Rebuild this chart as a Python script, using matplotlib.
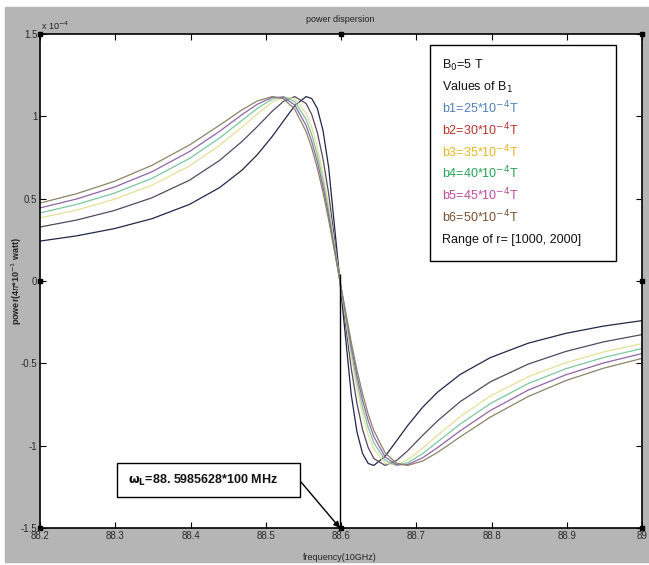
import numpy as np
import matplotlib; matplotlib.use("Agg")
import matplotlib.pyplot as plt
from matplotlib.patches import Rectangle

W, H = 649, 565

# frequency samples (10 GHz), shared by all curves
freq = [88.1886, 88.2486, 88.2986, 88.3486, 88.3986, 88.4386, 88.4686, 88.4886,
        88.5086, 88.5236, 88.5386, 88.5536, 88.5611, 88.5686, 88.5761, 88.5836,
        88.5986,
        88.6136, 88.6211, 88.6286, 88.6361, 88.6436, 88.6586, 88.6736, 88.6886,
        88.7086, 88.7286, 88.7586, 88.7986, 88.8486, 88.8986, 88.9486, 89.0086]

# power values, in units of 1e-4
b1 = [0.235, 0.274, 0.318, 0.378, 0.465, 0.567, 0.674, 0.766, 0.878, 0.972, 1.065,
      1.120, 1.108, 1.047, 0.914, 0.690, 0.0,
      -0.690, -0.914, -1.047, -1.108, -1.120, -1.065, -0.972, -0.878, -0.766,
      -0.674, -0.567, -0.465, -0.378, -0.318, -0.274, -0.235]
b2 = [0.318, 0.370, 0.428, 0.505, 0.612, 0.732, 0.848, 0.937, 1.031, 1.091, 1.120,
      1.078, 1.011, 0.901, 0.741, 0.531, 0.0,
      -0.531, -0.741, -0.901, -1.011, -1.078, -1.120, -1.091, -1.031, -0.937,
      -0.848, -0.732, -0.612, -0.505, -0.428, -0.370, -0.318]
b3 = [0.372, 0.431, 0.496, 0.582, 0.698, 0.823, 0.935, 1.015, 1.086, 1.117, 1.107,
      1.019, 0.932, 0.811, 0.653, 0.459, 0.0,
      -0.459, -0.653, -0.811, -0.932, -1.019, -1.107, -1.117, -1.086, -1.015,
      -0.935, -0.823, -0.698, -0.582, -0.496, -0.431, -0.372]
b4 = [0.401, 0.465, 0.533, 0.623, 0.744, 0.868, 0.976, 1.048, 1.104, 1.120, 1.089,
      0.982, 0.889, 0.765, 0.610, 0.426, 0.0,
      -0.426, -0.610, -0.765, -0.889, -0.982, -1.089, -1.120, -1.104, -1.048,
      -0.976, -0.868, -0.744, -0.623, -0.533, -0.465, -0.401]
b5 = [0.431, 0.498, 0.570, 0.663, 0.786, 0.909, 1.011, 1.073, 1.115, 1.116, 1.068,
      0.945, 0.847, 0.723, 0.572, 0.397, 0.0,
      -0.397, -0.572, -0.723, -0.847, -0.945, -1.068, -1.116, -1.115, -1.073,
      -1.011, -0.909, -0.786, -0.663, -0.570, -0.498, -0.431]
b6 = [0.460, 0.530, 0.605, 0.702, 0.826, 0.946, 1.040, 1.093, 1.120, 1.106, 1.043,
      0.908, 0.808, 0.684, 0.538, 0.371, 0.0,
      -0.371, -0.538, -0.684, -0.808, -0.908, -1.043, -1.106, -1.120, -1.093,
      -1.040, -0.946, -0.826, -0.702, -0.605, -0.530, -0.460]

curves = [b1, b2, b3, b4, b5, b6]
line_colors = ["#1f2748", "#55475f", "#e4e09a", "#7cc6a0", "#9263a8", "#8a8468"]

legend_lines = [r"b1=25*10$^{-4}$T", r"b2=30*10$^{-4}$T", r"b3=35*10$^{-4}$T",
                r"b4=40*10$^{-4}$T", r"b5=45*10$^{-4}$T", r"b6=50*10$^{-4}$T"]
legend_colors = ["#4f7fb8", "#b8322a", "#e8b820", "#26a255", "#c04a9c", "#7a5230"]

omega_L = 88.5985628
xticks = [88.2, 88.3, 88.4, 88.5, 88.6, 88.7, 88.8, 88.9, 89]
xticklabels = ["88.2", "88.3", "88.4", "88.5", "88.6", "88.7", "88.8", "88.9", "89"]
yticks = [-1.5, -1, -0.5, 0, 0.5, 1, 1.5]
yticklabels = ["-1.5", "-1", "-0.5", "0", "0.5", "1", "1.5"]

plt.rcParams["font.family"] = ["Liberation Sans", "DejaVu Sans"]


def fx(px):
    return px / W


def fy(py):
    return 1 - py / H


fig = plt.figure(figsize=(W / 100, H / 100), dpi=100, facecolor="white")
fig.patches.append(Rectangle((fx(5), fy(562)), 1, (562 - 7) / H,
                             transform=fig.transFigure, color="#b5b5b5", zorder=-5))

ax = fig.add_axes([fx(40), fy(528), (642 - 40) / W, (528 - 34) / H])
ax.set_facecolor("white")

for y, c in zip(curves, line_colors):
    ax.plot(freq, y, color=c, lw=0.9)

ax.vlines(omega_L, -1.5, 0.04, color="black", lw=1.0)

ax.set_xlim(88.2, 89)
ax.set_ylim(-1.5, 1.5)
ax.set_xticks(xticks)
ax.set_xticklabels(xticklabels)
ax.set_yticks(yticks)
ax.set_yticklabels(yticklabels)
ax.tick_params(direction="in", length=4, width=0.8, top=True, right=True,
               labelsize=7, labelcolor="#2a2a2a", pad=2)
for s in ax.spines.values():
    s.set_linewidth(1.2)

# selection handles at corners and mid-sides
hx = [88.2, 88.6, 89, 88.2, 89, 88.2, 88.6, 89]
hy = [1.5, 1.5, 1.5, 0, 0, -1.5, -1.5, -1.5]
ax.plot(hx, hy, ls="none", marker="s", ms=3.5, color="black", clip_on=False, zorder=10)

fig.text(fx(340), fy(19), "power dispersion", fontsize=6.5, ha="center", va="center",
         color="#222222")
fig.text(fx(340), fy(557), "frequency(10GHz)", fontsize=6.5, ha="center", va="center",
         color="#222222")
fig.text(fx(17), fy(281), r"power(4$\pi$*10$^{-1}$ watt)", fontsize=6.5, rotation=90,
         ha="center", va="center", fontweight="bold", color="#222222")
fig.text(fx(41), fy(26), r"x 10$^{-4}$", fontsize=6.5, ha="left", va="center",
         color="#222222")

# legend box
ax.add_patch(Rectangle((fx(430), fy(261)), (616 - 430) / W, (261 - 45) / H,
                       transform=fig.transFigure, facecolor="white",
                       edgecolor="black", lw=1.0, zorder=20))
ax.text(fx(442), fy(65), r"B$_0$=5 T", transform=fig.transFigure, fontsize=9,
        va="center", color="#111111", zorder=21)
ax.text(fx(442), fy(87), r"Values of B$_1$", transform=fig.transFigure, fontsize=9,
        va="center", color="#111111", zorder=21)
for i, (t, c) in enumerate(zip(legend_lines, legend_colors)):
    ax.text(fx(442), fy(108 + i * 21.8), t, transform=fig.transFigure, fontsize=9,
            va="center", color=c, zorder=21)
ax.text(fx(442), fy(240), "Range of r= [1000, 2000]", transform=fig.transFigure,
        fontsize=9, va="center", color="#111111", zorder=21)

# omega_L annotation
ax.add_patch(Rectangle((fx(117), fy(497)), (300 - 117) / W, (497 - 463) / H,
                       transform=fig.transFigure, facecolor="white",
                       edgecolor="black", lw=1.0, zorder=20))
ax.text(fx(128), fy(480), r"$\mathbf{\omega_L}$=88. 5985628*100 MHz",
        transform=fig.transFigure, fontsize=9, fontweight="bold", va="center",
        color="#111111", zorder=21)
ax.annotate("", xy=(omega_L, -1.5), xycoords="data",
            xytext=(fx(301), fy(482)), textcoords="figure fraction",
            arrowprops=dict(arrowstyle="-|>", color="black", lw=1.0,
                            mutation_scale=9, shrinkA=0, shrinkB=0),
            zorder=22, annotation_clip=False)

fig.savefig("out.png", dpi=100, facecolor="white")
